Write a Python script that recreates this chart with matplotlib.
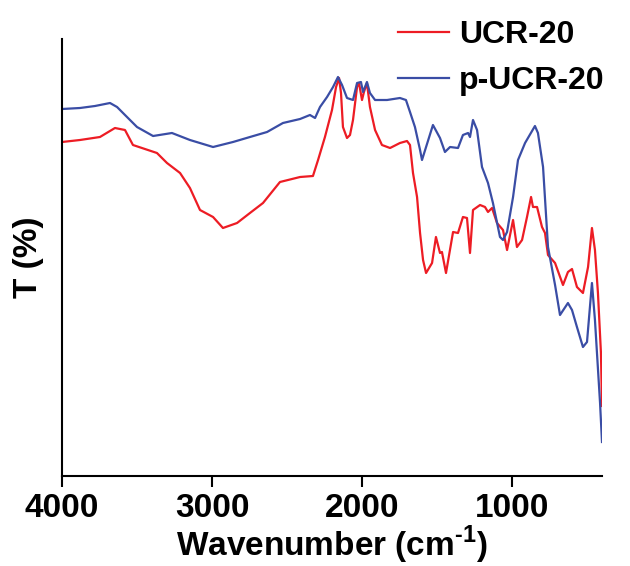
import matplotlib
matplotlib.use("Agg")
import matplotlib.pyplot as plt

plt.rcParams['font.family'] = ['Liberation Sans', 'DejaVu Sans']
plt.rcParams['font.weight'] = 'bold'
plt.rcParams['mathtext.fontset'] = 'custom'
plt.rcParams['mathtext.rm'] = 'Liberation Sans:bold'
plt.rcParams['mathtext.bf'] = 'Liberation Sans:bold'

# UCR-20 spectrum (wavenumber in cm-1, transmittance in arbitrary units)
ucr_wn = [4000, 3880, 3747, 3647, 3580, 3527, 3367, 3300, 3213, 3147, 3080, 2993, 2927,
          2833, 2747, 2660, 2547, 2413, 2327, 2293, 2247, 2200, 2173, 2153, 2140, 2127,
          2100, 2080, 2060, 2033, 2020, 2000, 1987, 1967, 1947, 1913, 1867, 1813, 1747,
          1700, 1680, 1660, 1633, 1613, 1593, 1573, 1533, 1507, 1480, 1467, 1440, 1393,
          1360, 1327, 1300, 1280, 1260, 1213, 1180, 1160, 1133, 1100, 1060, 1033, 993,
          967, 933, 900, 873, 860, 833, 800, 780, 760, 713, 660, 627, 600, 567, 527,
          493, 467, 447, 427, 407, 400]
ucr_t = [334, 336, 339, 348, 346, 331, 323, 313, 303, 288, 266, 259, 248,
         253, 263, 273, 294, 299, 300, 316, 339, 366, 389, 398, 383, 349,
         338, 341, 356, 389, 393, 376, 384, 393, 369, 346, 331, 328, 333,
         335, 331, 303, 279, 243, 216, 203, 213, 239, 223, 224, 203, 244,
         243, 259, 258, 223, 266, 271, 269, 264, 268, 253, 246, 226, 256,
         229, 236, 259, 279, 269, 269, 249, 243, 221, 213, 191, 204, 207, 189, 183,
         209, 248, 226, 183, 123, 70]

# p-UCR-20 spectrum
pucr_wn = [4000, 3880, 3780, 3680, 3633, 3580, 3500, 3393, 3267, 3147, 2993, 2860, 2747,
           2633, 2527, 2413, 2347, 2313, 2280, 2233, 2193, 2160, 2133, 2100, 2060, 2033,
           2007, 1993, 1967, 1947, 1913, 1833, 1747, 1707, 1680, 1647, 1613, 1600, 1527,
           1480, 1447, 1413, 1360, 1327, 1293, 1280, 1260, 1233, 1200, 1160, 1127, 1080,
           1060, 1033, 993, 960, 913, 847, 827, 793, 760, 713, 680, 627, 600, 567, 527,
           500, 467, 447, 413, 400]
pucr_t = [367, 368, 370, 373, 369, 361, 349, 340, 343, 336, 329, 334, 339,
          344, 353, 357, 361, 358, 369, 379, 389, 399, 391, 378, 376, 393,
          394, 384, 394, 383, 376, 376, 378, 376, 364, 349, 326, 316, 351,
          338, 324, 329, 328, 341, 343, 339, 356, 346, 309, 293, 273, 239,
          236, 244, 279, 316, 333, 350, 343, 309, 229, 191, 161, 173, 166, 149, 129,
          134, 193, 156, 73, 34]

fig = plt.figure(figsize=(6.3, 5.66), dpi=100)
ax = fig.add_axes([62 / 630, 90 / 566, 540 / 630, 437 / 566])

ax.plot(ucr_wn, ucr_t, color='#ED1C24', lw=1.6, label='UCR-20')
ax.plot(pucr_wn, pucr_t, color='#3A4DA5', lw=1.6, label='p-UCR-20')

ax.set_xlim(4000, 400)
ax.set_ylim(0, 437)
ax.set_xticks([4000, 3000, 2000, 1000])
ax.set_yticks([])
ax.tick_params(axis='x', direction='out', length=8, width=1.5, pad=4, labelsize=24)
for s in ['top', 'right']:
    ax.spines[s].set_visible(False)
for s in ['left', 'bottom']:
    ax.spines[s].set_linewidth(1.5)

ax.set_xlabel('Wavenumber (cm$^{\\text{-1}}$)', fontsize=24, fontweight='bold', labelpad=0)
ax.set_ylabel('T (%)', fontsize=24, fontweight='bold', labelpad=13)

fig.legend(loc='upper left', bbox_to_anchor=(398 / 630, 1 - 20 / 566), frameon=False,
           fontsize=23, handlelength=1.6, handletextpad=0.3, labelspacing=0.5,
           borderpad=0, borderaxespad=0)

fig.savefig('out.png', dpi=100)
